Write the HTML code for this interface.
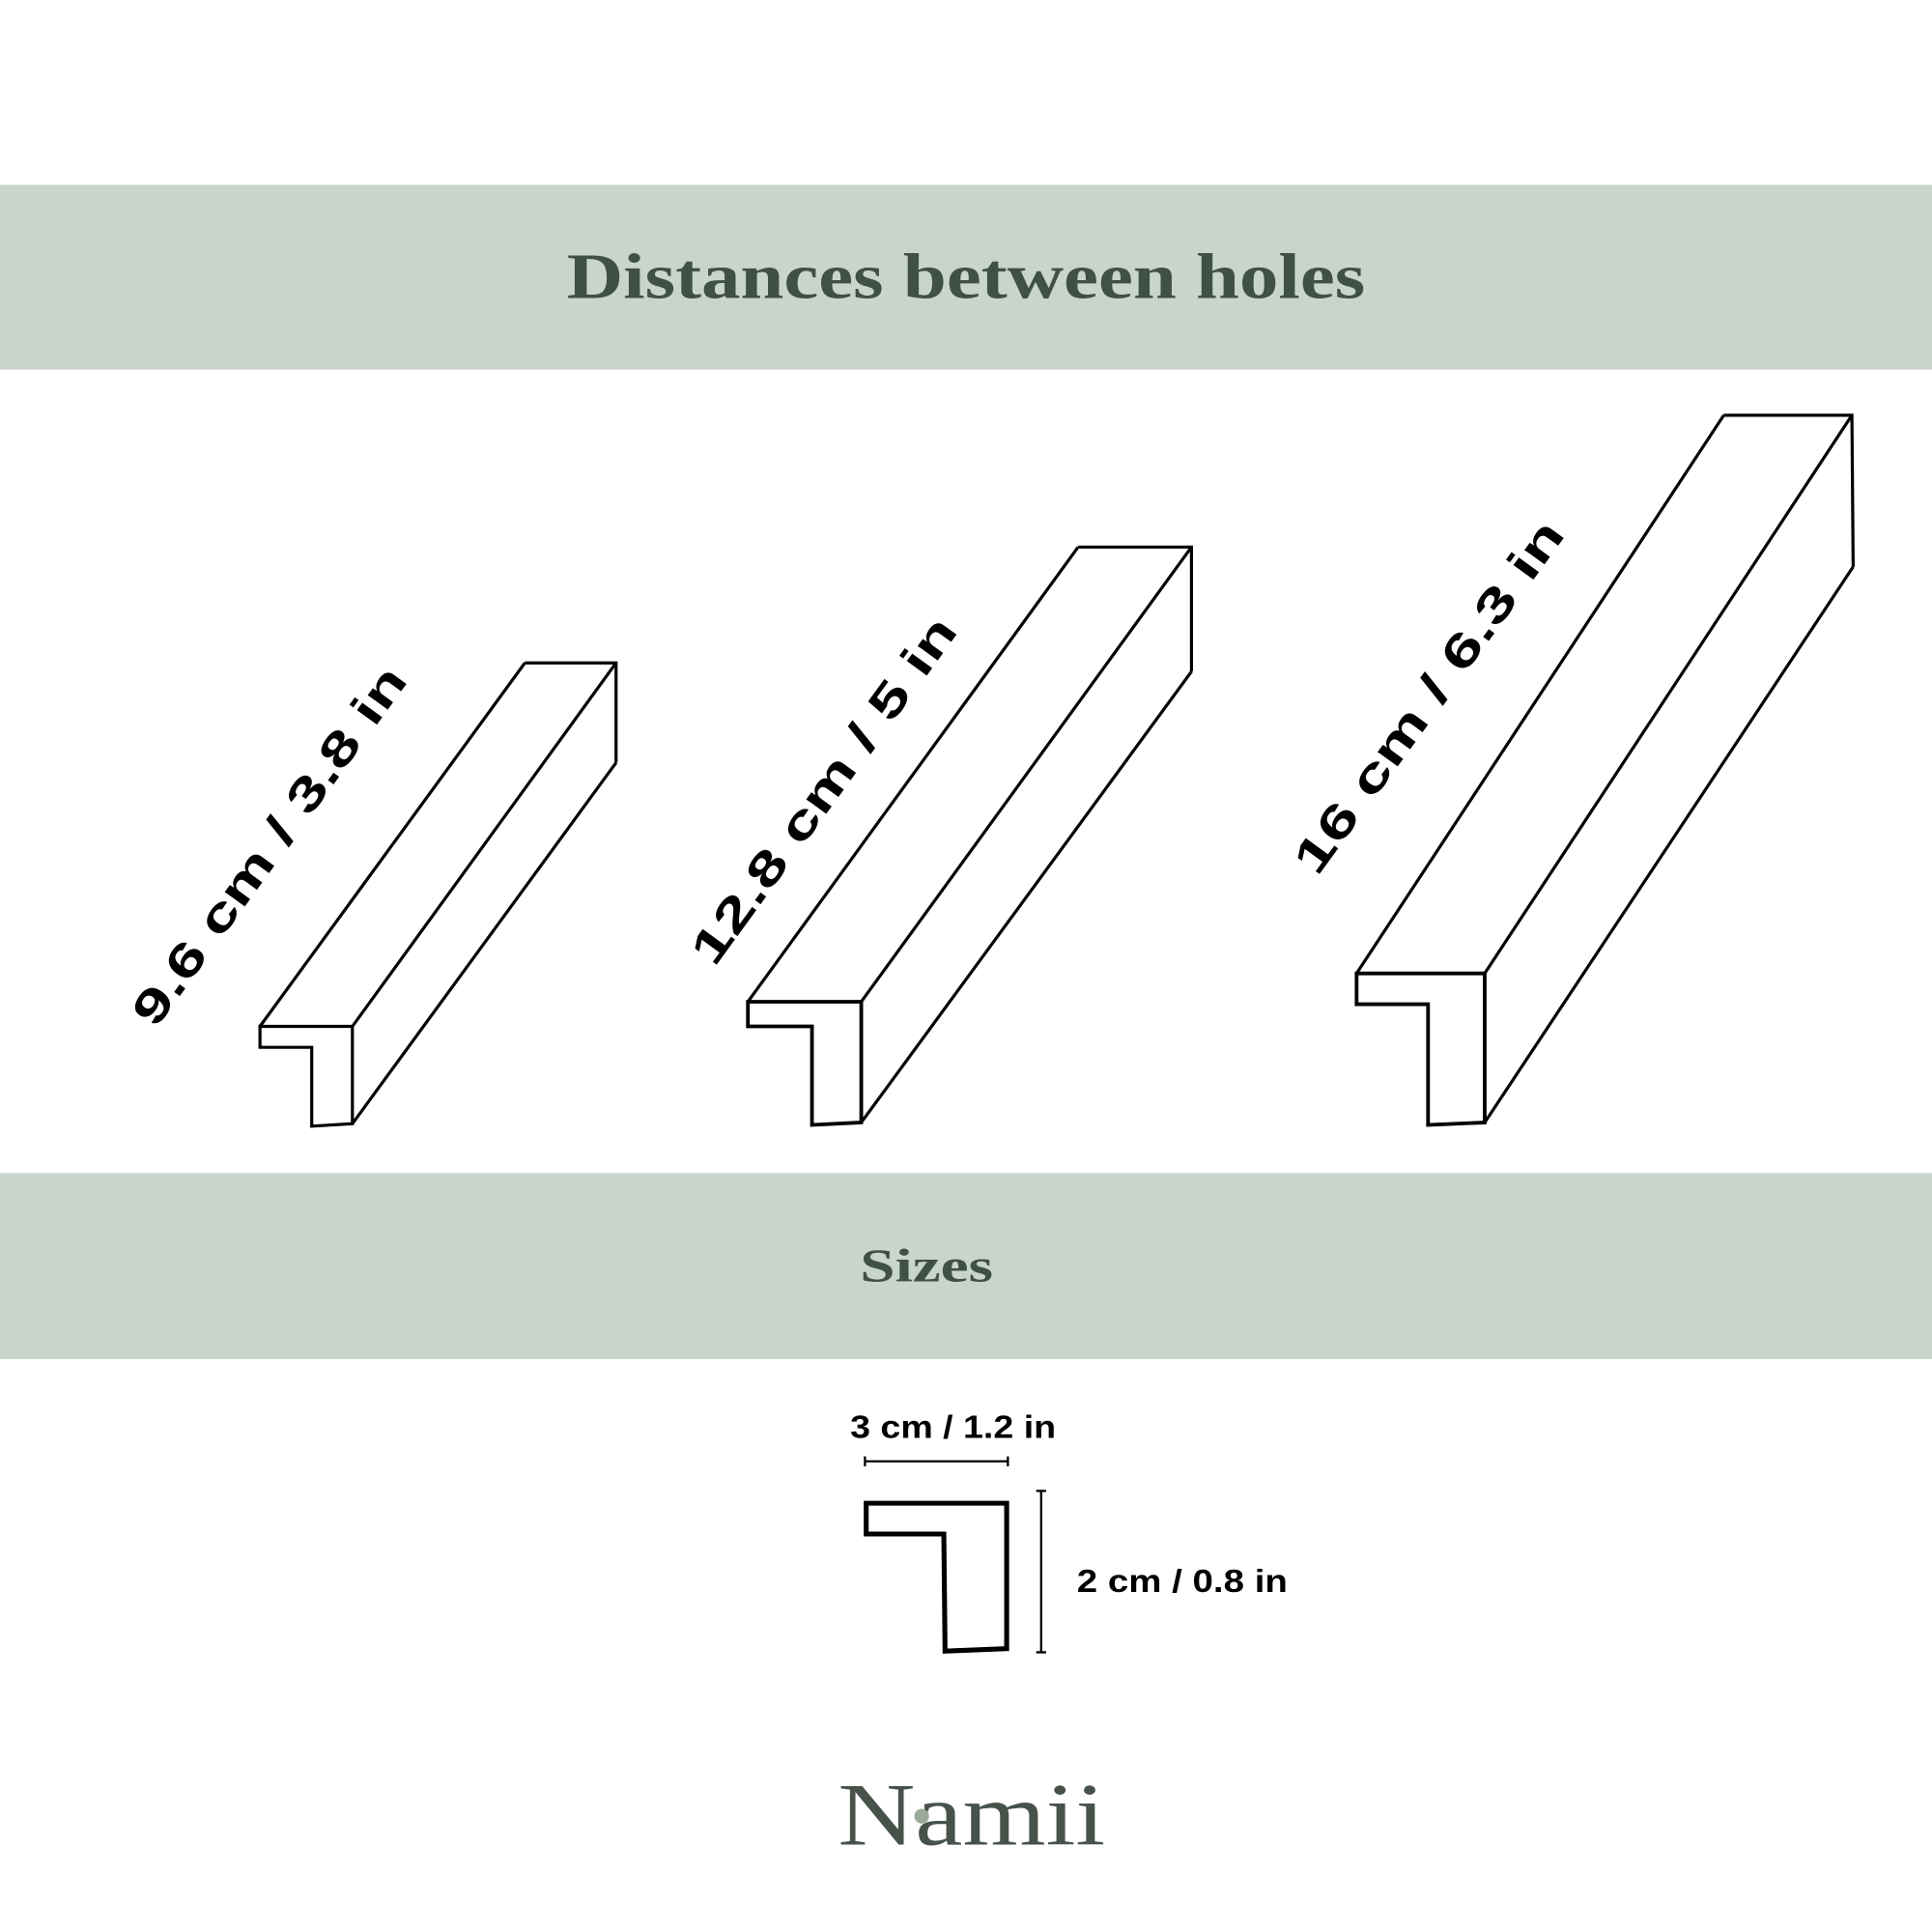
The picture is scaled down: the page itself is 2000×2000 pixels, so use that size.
<!DOCTYPE html>
<html><head><meta charset="utf-8"><style>html,body{margin:0;padding:0;background:#fff}svg{display:block}</style></head>
<body>
<svg width="2000" height="2000" viewBox="0 0 1568 1568" xmlns="http://www.w3.org/2000/svg">
<rect width="1568" height="1568" fill="#fff"/>
<rect x="0" y="150" width="1568" height="150" fill="#c9d4ca"/>
<rect x="0" y="952" width="1568" height="151" fill="#c9d4ca"/>
<text x="784" y="242" text-anchor="middle" font-family="Liberation Serif, serif" font-weight="bold" font-size="52" fill="#3f5044" textLength="648" lengthAdjust="spacingAndGlyphs">Distances between holes</text>
<text x="752" y="1040" text-anchor="middle" font-family="Liberation Serif, serif" font-weight="bold" font-size="38" fill="#3f5044" textLength="108" lengthAdjust="spacingAndGlyphs">Sizes</text>
<g fill="none" stroke="#000" stroke-width="2.5" stroke-linejoin="miter">
<path d="M426,538 L500,538 L500,619 M426,538 L211,833 M500,538 L286,833 M500,619 L286,912"/>
<path d="M211,833 L286,833 L286,912 L253,914 L253,850 L211,850 Z"/>
<path d="M875,444 L967,444 L967,545 M875,444 L607,813 M967,444 L699,813 M967,545 L699,911"/>
<path d="M607,813 L699,813 L699,911 L659,913 L659,833 L607,833 Z" stroke-width="3"/>
<path d="M1399,337 L1503,337 L1504,460 M1399,337 L1101,790 M1503,337 L1205,790 M1504,460 L1205,911"/>
<path d="M1101,790 L1205,790 L1205,911 L1159,913 L1159,815 L1101,815 Z" stroke-width="3"/>
</g>
<g font-family="Liberation Sans, sans-serif" font-weight="bold" font-size="38" fill="#000" text-anchor="middle">
<text transform="translate(229,694) rotate(-54)" textLength="350" lengthAdjust="spacingAndGlyphs">9.6 cm  / 3.8 in</text>
<text transform="translate(679,649) rotate(-54)" textLength="338" lengthAdjust="spacingAndGlyphs">12.8 cm  / 5 in</text>
<text transform="translate(1170,573) rotate(-54)" textLength="344" lengthAdjust="spacingAndGlyphs">16 cm  / 6.3 in</text>
</g>
<g font-family="Liberation Sans, sans-serif" font-weight="bold" font-size="26" fill="#000">
<text x="690" y="1167" textLength="167" lengthAdjust="spacingAndGlyphs">3 cm / 1.2 in</text>
<text x="874" y="1292" textLength="171" lengthAdjust="spacingAndGlyphs">2 cm / 0.8 in</text>
</g>
<g stroke="#000" fill="none">
<path d="M702,1186 L818,1186 M702,1182 L702,1190 M818,1182 L818,1190" stroke-width="1.8"/>
<path d="M845,1210 L845,1341 M841,1210 L849,1210 M841,1341 L849,1341" stroke-width="1.8"/>
<path d="M703,1220 L817,1220 L817,1338 L767,1340 L766,1245 L703,1245 Z" stroke-width="4"/>
</g>
<text x="680" y="1497" font-family="Liberation Serif, serif" font-size="72" fill="#46524a" textLength="217" lengthAdjust="spacingAndGlyphs">Namii</text>
<circle cx="748" cy="1474" r="6" fill="#9aab9a"/>
</svg>
</body></html>
